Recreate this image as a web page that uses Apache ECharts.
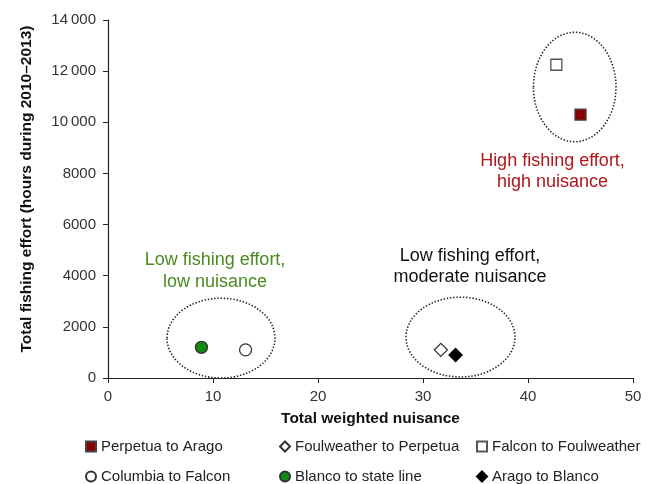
<!DOCTYPE html>
<html><head><meta charset="utf-8">
<script src="https://cdn.jsdelivr.net/npm/echarts@6/dist/echarts.min.js"></script>
<style>html,body{margin:0;padding:0;background:#fff}#c{width:651px;height:484px}</style>
</head><body><div id="c"></div>
<script>
// Data
const seriesNames = ['Perpetua to Arago','Foulweather to Perpetua','Falcon to Foulweather','Columbia to Falcon','Blanco to state line','Arago to Blanco'];
const perpetuaToArago = [[45.0, 10300]];
const foulweatherToPerpetua = [[31.7, 1100]];
const falconToFoulweather = [[42.7, 12250]];
const columbiaToFalcon = [[13.1, 1100]];
const blancoToStateLine = [[8.9, 1200]];
const aragoToBlanco = [[33.1, 900]];
// cluster ellipses: [centerX, centerY, radiusX, radiusY] in data units
const clusterEllipses = [[10.76, 1560, 5.14, 1560], [33.57, 1600, 5.19, 1560], [44.45, 11380, 3.93, 2140]];
const xTicks = [0, 10, 20, 30, 40, 50];
const yTicks = [0, 2000, 4000, 6000, 8000, 10000, 12000, 14000];

const FONT = 'Liberation Sans';
const chart = echarts.init(document.getElementById('c'));
function fmtY(v){ return v >= 10000 ? String(Math.floor(v/1000)) + '\u2009' + String(v%1000).padStart(3,'0') : String(v); }
function sc(name, data, symbol, fill, border, size){
  return {name, type:'scatter', data, symbol, symbolSize:size,
    itemStyle:{color:fill, borderColor:border, borderWidth:1.3, opacity:1}, z:5};
}
const legendText = {fontFamily:FONT, fontSize:15, color:'#222'};
function lg(name, left, top){
  return {data:[name], left, top, itemWidth:10, itemHeight:10, textStyle:legendText, selectedMode:false, padding:0};
}
chart.setOption({
  animation:false,
  grid:{left:108, right:18, top:20, bottom:106},
  xAxis:{type:'value', min:xTicks[0], max:xTicks[xTicks.length-1], interval:10,
    name:'Total weighted nuisance', nameLocation:'middle', nameGap:33,
    nameTextStyle:{fontFamily:FONT, fontSize:15.5, fontWeight:'bold', color:'#111'},
    axisLine:{lineStyle:{color:'#222', width:1.2}}, axisTick:{show:true, length:5, lineStyle:{color:'#222'}},
    axisLabel:{fontFamily:FONT, fontSize:15, color:'#333', margin:11}, splitLine:{show:false}},
  yAxis:{type:'value', min:yTicks[0], max:yTicks[yTicks.length-1], interval:2000,
    axisLine:{show:true, lineStyle:{color:'#222', width:1.2}}, axisTick:{show:true, length:5, lineStyle:{color:'#222'}},
    axisLabel:{fontFamily:FONT, fontSize:15, color:'#333', margin:12, formatter:fmtY}, splitLine:{show:false}},
  legend:[
    lg(seriesNames[0], 85, 439), lg(seriesNames[3], 85, 469),
    lg(seriesNames[1], 279, 439), lg(seriesNames[4], 279, 469),
    lg(seriesNames[2], 476, 439), lg(seriesNames[5], 476, 469)
  ],
  graphic:[
    {type:'text', x:27, y:189, rotation:Math.PI/2, style:{text:'Total fishing effort (hours during 2010\u20132013)', fill:'#111', font:'bold 15.5px "Liberation Sans"', align:'center', verticalAlign:'middle'}},
    {type:'text', x:215, y:271.5, style:{text:'Low fishing effort,\nlow nuisance', fill:'#4a8a22', font:'18px "Liberation Sans"', align:'center', verticalAlign:'middle', lineHeight:22}},
    {type:'text', x:470, y:267, style:{text:'Low fishing effort,\nmoderate nuisance', fill:'#111', font:'18px "Liberation Sans"', align:'center', verticalAlign:'middle', lineHeight:21}},
    {type:'text', x:552.5, y:172, style:{text:'High fishing effort,\nhigh nuisance', fill:'#b0161c', font:'18px "Liberation Sans"', align:'center', verticalAlign:'middle', lineHeight:21}}
  ],
  series:[
    {type:'custom', name:'clusters', silent:true, z:2, data:clusterEllipses,
      renderItem:function(params, api){
        const c = api.coord([api.value(0), api.value(1)]);
        const s = api.size([api.value(2), api.value(3)]);
        return {type:'ellipse', shape:{cx:c[0], cy:c[1], rx:s[0], ry:s[1]},
          style:{fill:null, stroke:'#222', lineWidth:1.6, lineDash:[1.4,1.8]}};
      }},
    sc(seriesNames[0], perpetuaToArago, 'rect', '#8b0000', '#444', 11),
    sc(seriesNames[1], foulweatherToPerpetua, 'diamond', '#fff', '#333', 13),
    sc(seriesNames[2], falconToFoulweather, 'rect', '#fff', '#555', 11),
    sc(seriesNames[3], columbiaToFalcon, 'circle', '#fff', '#333', 12),
    sc(seriesNames[4], blancoToStateLine, 'circle', '#138a13', '#333', 12),
    sc(seriesNames[5], aragoToBlanco, 'diamond', '#000', '#000', 13)
  ]
});
</script></body></html>
